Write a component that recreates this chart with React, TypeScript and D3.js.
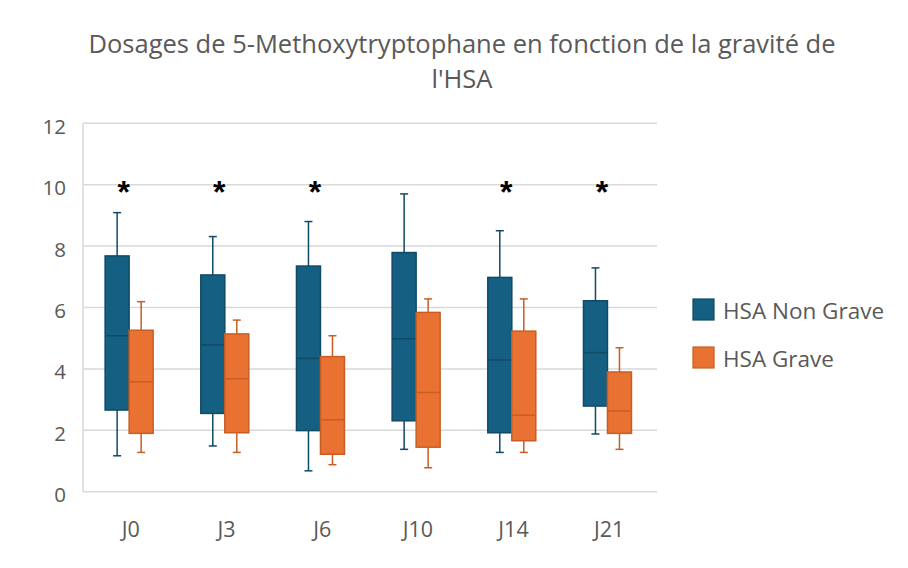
import React from 'react';
import * as d3 from 'd3';

// jours de prélèvement
const categories = ['J0', 'J3', 'J6', 'J10', 'J14', 'J21'];
const seriesNames = ['HSA Non Grave', 'HSA Grave'];

// [min, Q1, médiane, Q3, max]
const nonGrave = [
  [1.17, 2.66, 5.08, 7.68, 9.09],
  [1.49, 2.55, 4.78, 7.06, 8.31],
  [0.68, 1.99, 4.34, 7.35, 8.8],
  [1.38, 2.31, 4.98, 7.79, 9.7],
  [1.28, 1.92, 4.29, 6.98, 8.5],
  [1.88, 2.79, 4.53, 6.22, 7.29],
];
const grave = [
  [1.28, 1.9, 3.58, 5.26, 6.19],
  [1.28, 1.92, 3.68, 5.14, 5.59],
  [0.88, 1.22, 2.34, 4.4, 5.08],
  [0.78, 1.45, 3.23, 5.84, 6.28],
  [1.28, 1.66, 2.49, 5.23, 6.28],
  [1.38, 1.9, 2.63, 3.9, 4.69],
];
const significant = ['J0', 'J3', 'J6', 'J14', 'J21'];
const yTicks = [0, 2, 4, 6, 8, 10, 12];

const fills = ['#156082', '#E97132'];
const strokes = ['#0F4A66', '#C85E24'];
const textColor = '#595959';
const font = '"Open Sans", sans-serif';

const W = 908;
const H = 568;

const App = () => {
  const x = d3.scaleBand().domain(categories).range([83, 657]);
  const y = d3.scaleLinear().domain([0, 12]).range([491.7, 123.3]);
  const boxW = 24;
  const series = [nonGrave, grave];

  return (
    <svg
      width={W}
      height={H}
      style={{ position: 'absolute', left: 0, top: 0, background: '#fff' }}
      fontFamily={font}
    >
      {/* titre */}
      <text x={462} y={53} textAnchor="middle" fontSize={25.5} fill={textColor}>
        Dosages de 5-Methoxytryptophane en fonction de la gravité de
      </text>
      <text x={462} y={88} textAnchor="middle" fontSize={25.5} fill={textColor}>
        l'HSA
      </text>

      {/* grille */}
      {yTicks.map((t) => (
        <g key={t}>
          <line x1={83} x2={657} y1={y(t)} y2={y(t)} stroke="#D9D9D9" strokeWidth={1.5} />
          <text x={66} y={y(t) + 10.5} textAnchor="end" fontSize={20.5} fill={textColor}>
            {t}
          </text>
        </g>
      ))}
      <line x1={83} x2={83} y1={y(12)} y2={y(0)} stroke="#D9D9D9" strokeWidth={1.5} />

      {/* étiquettes x */}
      {categories.map((c) => (
        <text
          key={c}
          x={x(c)! + x.bandwidth() / 2}
          y={536.5}
          textAnchor="middle"
          fontSize={21.5}
          fill={textColor}
        >
          {c}
        </text>
      ))}

      {/* boîtes */}
      {categories.map((c, i) => {
        const cx = x(c)! + x.bandwidth() / 2 - 1.7;
        return (
          <g key={c}>
            {series.map((s, k) => {
              const [mn, q1, med, q3, mx] = s[i];
              const left = k === 0 ? cx - boxW : cx;
              const mid = left + boxW / 2;
              return (
                <g key={k} stroke={strokes[k]} strokeWidth={1.5}>
                  <line x1={mid} x2={mid} y1={y(mx)} y2={y(q3)} />
                  <line x1={mid} x2={mid} y1={y(q1)} y2={y(mn)} />
                  <line x1={mid - 4} x2={mid + 4} y1={y(mx)} y2={y(mx)} />
                  <line x1={mid - 4} x2={mid + 4} y1={y(mn)} y2={y(mn)} />
                  <rect
                    x={left}
                    y={y(q3)}
                    width={boxW}
                    height={y(q1) - y(q3)}
                    fill={fills[k]}
                  />
                  <line x1={left} x2={left + boxW} y1={y(med)} y2={y(med)} />
                </g>
              );
            })}
            {significant.includes(c) && (
              <text
                x={cx - 5.5}
                y={203}
                textAnchor="middle"
                fontSize={32}
                fontWeight="bold"
                fontFamily='"Liberation Sans", Arial, sans-serif'
                fill="#000"
              >
                *
              </text>
            )}
          </g>
        );
      })}

      {/* légende */}
      {seriesNames.map((n, k) => (
        <g key={n} transform={`translate(693, ${299 + k * 48})`}>
          <rect x={0} y={0} width={21} height={21} fill={fills[k]} stroke={strokes[k]} strokeWidth={1.2} />
          <text x={30} y={19.5} fontSize={22.5} fill={textColor}>
            {n}
          </text>
        </g>
      ))}
    </svg>
  );
};

export default App;
